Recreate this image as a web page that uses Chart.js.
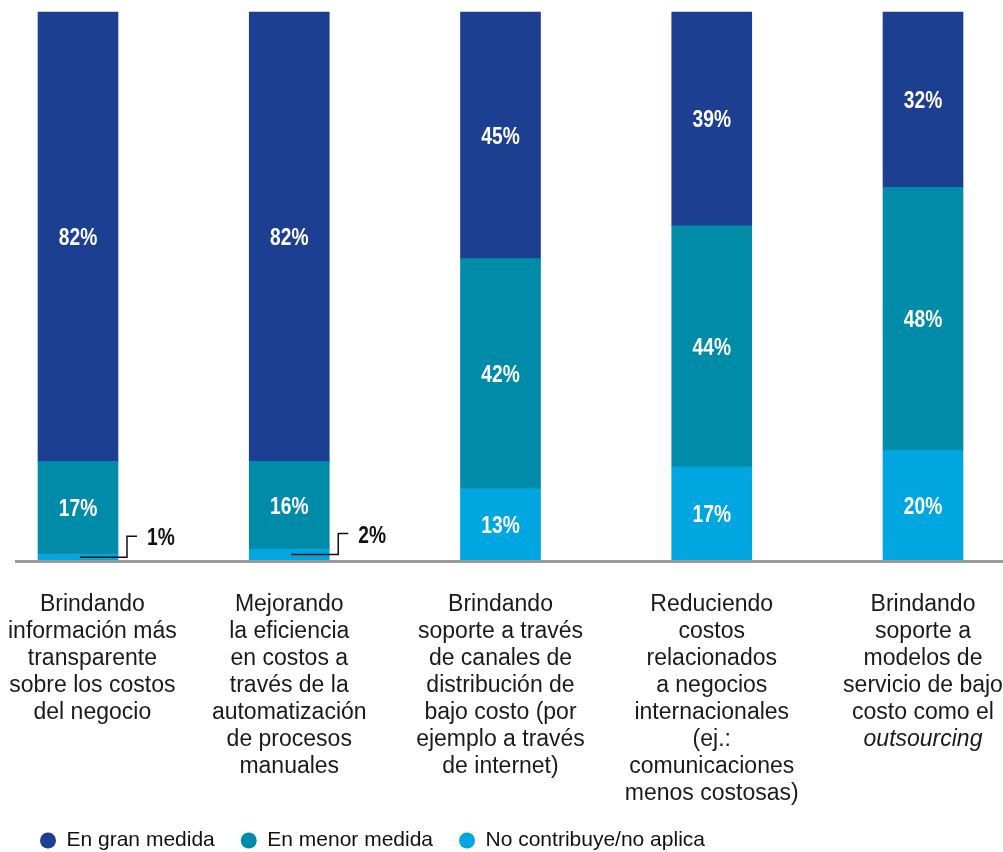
<!DOCTYPE html>
<html lang="es">
<head>
<meta charset="utf-8">
<title>Contribución</title>
<script src="https://cdn.jsdelivr.net/npm/chart.js@4.4.1/dist/chart.umd.min.js"></script>
<style>
  html, body { margin: 0; padding: 0; background: #fff; }
  #wrap { width: 1003px; height: 852px; }
</style>
</head>
<body>
<div id="wrap"><canvas id="chart" width="1003" height="852"></canvas></div>
<script>
// ==================== DATA ====================

const categories = [
  ["Brindando", "información más", "transparente", "sobre los costos", "del negocio"],
  ["Mejorando", "la eficiencia", "en costos a", "través de la", "automatización", "de procesos", "manuales"],
  ["Brindando", "soporte a través", "de canales de", "distribución de", "bajo costo (por", "ejemplo a través", "de internet)"],
  ["Reduciendo", "costos", "relacionados", "a negocios", "internacionales", "(ej.:", "comunicaciones", "menos costosas)"],
  ["Brindando", "soporte a", "modelos de", "servicio de bajo", "costo como el", "outsourcing"],
];
const italicLines = ["outsourcing"];

const seriesNames = ["En gran medida", "En menor medida", "No contribuye/no aplica"];
const granMedida = [82, 82, 45, 39, 32];
const menorMedida = [17, 16, 42, 44, 48];
const noAplica = [1, 2, 13, 17, 20];

const seriesColors = ["#1d3f92", "#008ca8", "#00a6e0"];

const labelFont = "'Liberation Sans', Arial, sans-serif";

// condensed-looking bold text (squeezed horizontally)
function drawPct(ctx, text, x, y, align) {
  ctx.save();
  ctx.font = "bold 24px " + labelFont;
  ctx.textAlign = align;
  ctx.textBaseline = "alphabetic";
  ctx.translate(x, y);
  ctx.scale(0.8, 1);
  ctx.fillText(text, 0, 0);
  ctx.restore();
}

// ==================== OVERLAY PLUGIN ====================

const overlayPlugin = {
  id: "overlay",
  afterDatasetsDraw(chart) {
    const ctx = chart.ctx;
    const xScale = chart.scales.x;
    const yScale = chart.scales.y;
    const zeroY = yScale.getPixelForValue(0);

    ctx.save();

    // gray baseline
    ctx.strokeStyle = "#9b9b9b";
    ctx.lineWidth = 3;
    ctx.beginPath();
    ctx.moveTo(15, zeroY + 1.5);
    ctx.lineTo(chart.width, zeroY + 1.5);
    ctx.stroke();

    // percentage labels
    chart.data.datasets.forEach((ds, di) => {
      const meta = chart.getDatasetMeta(di);
      meta.data.forEach((bar, i) => {
        const value = ds.data[i];
        const midY = (bar.y + bar.base) / 2;
        if (value >= 5) {
          ctx.fillStyle = "#ffffff";
          drawPct(ctx, value + "%", bar.x, midY + 8.5, "center");
        } else {
          // small value: leader line + label to the right
          const right = bar.x + bar.width / 2;
          ctx.strokeStyle = "#111111";
          ctx.lineWidth = 1.5;
          ctx.beginPath();
          ctx.moveTo(bar.x + 2, midY);
          ctx.lineTo(right + 9, midY);
          ctx.lineTo(right + 9, midY - 21);
          ctx.lineTo(right + 19, midY - 21);
          ctx.stroke();
          ctx.fillStyle = "#111111";
          drawPct(ctx, value + "%", right + 29, midY - 12, "left");
        }
      });
    });

    // category labels under the bars
    ctx.fillStyle = "#1a1a1a";
    ctx.textAlign = "center";
    ctx.textBaseline = "alphabetic";
    categories.forEach((lines, i) => {
      let cx = xScale.getPixelForValue(i);
      // keep the widest line inside the canvas
      ctx.font = "23px " + labelFont;
      const maxW = Math.max(...lines.map((l) => ctx.measureText(l).width));
      if (cx - maxW / 2 < 8) cx = 8 + maxW / 2;
      lines.forEach((line, li) => {
        const style = italicLines.includes(line) ? "italic " : "";
        ctx.font = style + "23px " + labelFont;
        ctx.fillText(line, cx, xScale.top + 51 + li * 27);
      });
    });

    ctx.restore();
  },
};

// ==================== CHART ====================

const ctx = document.getElementById("chart");

// stacked bottom-up: no aplica, menor, gran medida
new Chart(ctx, {
  type: "bar",
  data: {
    labels: categories.map((c) => c.join(" ")),
    datasets: [
      { label: seriesNames[2], data: noAplica, backgroundColor: seriesColors[2] },
      { label: seriesNames[1], data: menorMedida, backgroundColor: seriesColors[1] },
      { label: seriesNames[0], data: granMedida, backgroundColor: seriesColors[0] },
    ].map((d) => Object.assign(d, { borderWidth: 0, barThickness: 80, clip: false })),
  },
  options: {
    responsive: false,
    animation: false,
    layout: {
      padding: { left: 14, right: 80, top: 12, bottom: -9 },
    },
    scales: {
      x: {
        stacked: true,
        offset: false,
        grid: { display: false },
        border: { display: false },
        ticks: { display: false },
        afterFit(scale) {
          scale.height = 244;
        },
      },
      y: {
        stacked: true,
        min: 0,
        max: 100,
        grid: { display: false },
        border: { display: false },
        ticks: { display: false },
        afterFit(scale) {
          scale.width = 64;
        },
      },
    },
    plugins: {
      legend: {
        position: "bottom",
        align: "start",
        reverse: true,
        labels: {
          color: "#111111",
          font: { family: labelFont, size: 21 },
          usePointStyle: true,
          pointStyle: "circle",
          boxHeight: 11.3,
          pointStyleWidth: 16,
          padding: 26,
        },
      },
      tooltip: { enabled: false },
    },
  },
  plugins: [overlayPlugin],
});
</script>
</body>
</html>
